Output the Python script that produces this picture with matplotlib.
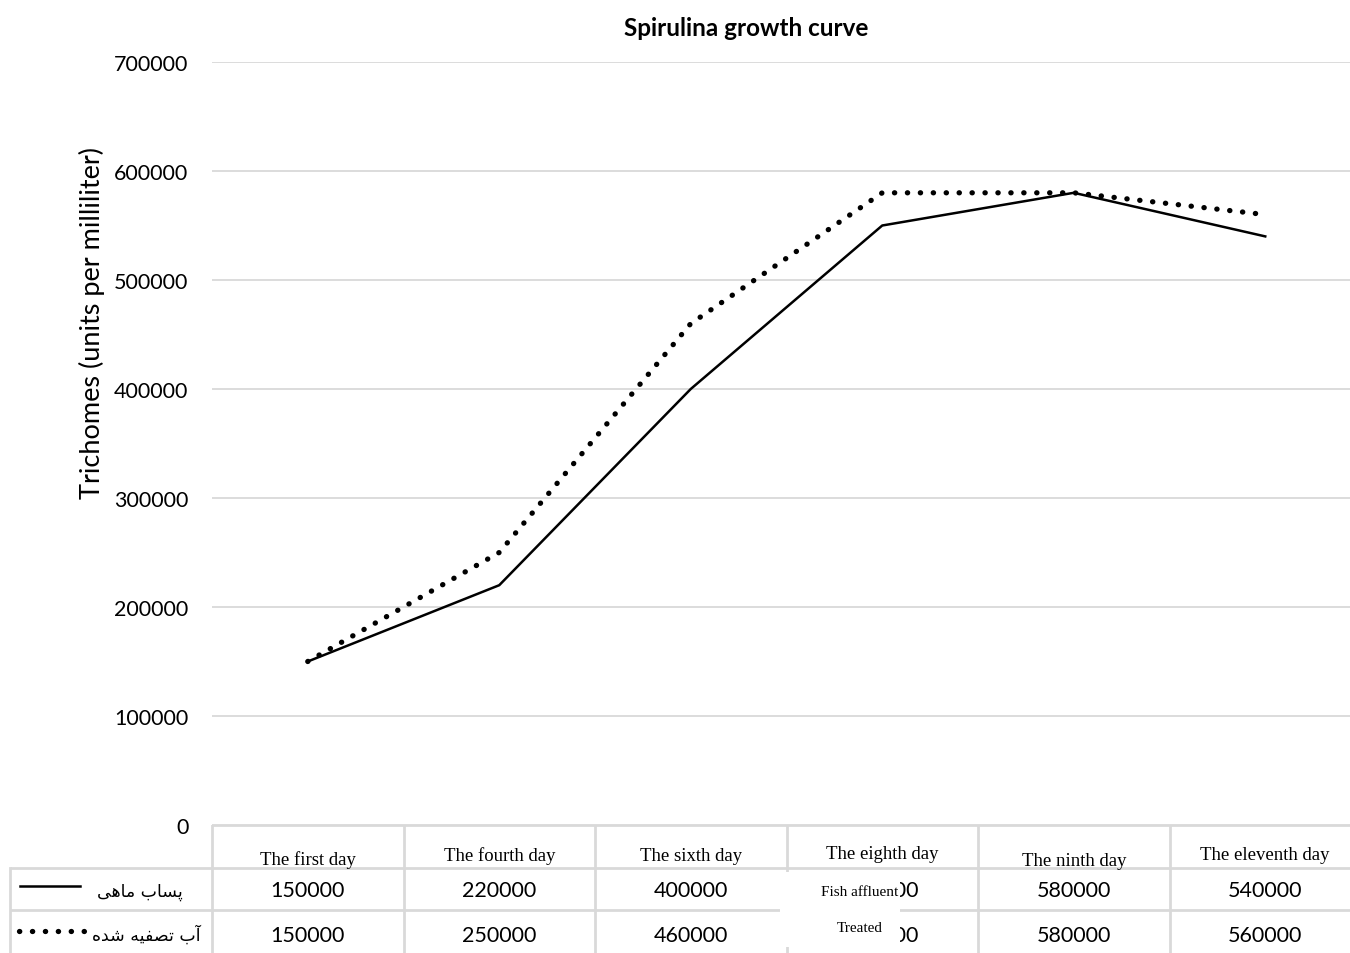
import numpy as np
import matplotlib.pyplot as plt
from matplotlib.lines import Line2D
from matplotlib.patches import Rectangle

plt.rcParams['font.family'] = ['Lato', 'DejaVu Sans']

# Data
days = ['The first day', 'The fourth day', 'The sixth day',
        'The eighth day', 'The ninth day', 'The eleventh day']
fish_effluent = [150000, 220000, 400000, 550000, 580000, 540000]
treated_water = [150000, 250000, 460000, 580000, 580000, 560000]
series_names = ['پساب ماهی', 'آب تصفیه شده']
overlay_names = ['Fish affluent', 'Treated']
yticks = [0, 100000, 200000, 300000, 400000, 500000, 600000, 700000]

# minimal persian shaping for matplotlib (no bidi / joining support)
FORMS = {
    'ا': ('\uFE8D', '\uFE8E', None, None),
    'آ': ('\uFE81', '\uFE82', None, None),
    'د': ('\uFEA9', '\uFEAA', None, None),
    'ب': ('\uFE8F', '\uFE90', '\uFE91', '\uFE92'),
    'پ': ('\uFB56', '\uFB57', '\uFB58', '\uFB59'),
    'ت': ('\uFE95', '\uFE96', '\uFE97', '\uFE98'),
    'س': ('\uFEB1', '\uFEB2', '\uFEB3', '\uFEB4'),
    'ش': ('\uFEB5', '\uFEB6', '\uFEB7', '\uFEB8'),
    'ص': ('\uFEB9', '\uFEBA', '\uFEBB', '\uFEBC'),
    'ف': ('\uFED1', '\uFED2', '\uFED3', '\uFED4'),
    'م': ('\uFEE1', '\uFEE2', '\uFEE3', '\uFEE4'),
    'ه': ('\uFEE9', '\uFEEA', '\uFEEB', '\uFEEC'),
    'ی': ('\uFBFC', '\uFBFD', '\uFBFE', '\uFBFF'),
}


def shape_fa(text):
    out = []
    for i, ch in enumerate(text):
        if ch not in FORMS:
            out.append(ch)
            continue
        prev = text[i - 1] if i > 0 else ' '
        nxt = text[i + 1] if i + 1 < len(text) else ' '
        f = FORMS[ch]
        join_prev = prev in FORMS and FORMS[prev][2] is not None
        join_next = nxt in FORMS and f[2] is not None
        if join_prev and join_next:
            g = f[3]
        elif join_prev:
            g = f[1]
        elif join_next:
            g = f[2]
        else:
            g = f[0]
        out.append(g)
    return ''.join(reversed(out))


W, H = 1350, 954
x0 = 212          # left edge of plot area (px)
unit = 191.5      # width of one category (px)
fig = plt.figure(figsize=(W / 100, H / 100), dpi=100)
ax = fig.add_axes([x0 / W, 1 - 826 / H, unit * len(days) / W, (826 - 63) / H])

x = np.arange(len(days))
grid_c = '#d9d9d9'
dots = (0, (0.05, 2.4))
ax.plot(x, fish_effluent, color='black', lw=1.8, zorder=3)
ax.plot(x, treated_water, color='black', lw=3.8, linestyle=dots,
        dash_capstyle='round', zorder=3)

ax.set_xlim(-0.5, len(days) - 0.5)
ax.set_ylim(0, 700000)
ax.set_yticks(yticks)
ax.set_yticklabels([str(v) for v in yticks], fontsize=15.5)
ax.set_xticks([])
ax.yaxis.grid(True, color=grid_c, lw=1.3)
ax.set_axisbelow(True)
for s in ax.spines.values():
    s.set_visible(False)
ax.tick_params(axis='y', length=0, pad=17)
fig.text(92 / W, 1 - 323 / H, 'Trichomes (units per milliliter)', rotation=90,
         ha='center', va='center', fontsize=19.5)
fig.text(746 / W, 1 - 28 / H, 'Spirulina growth curve', ha='center', va='center',
         fontsize=17.5, fontweight='bold')

# data table under the chart
left = -0.5 - x0 / unit
tab = fig.add_axes([0, 0, 1, (H - 826) / H])
tab.set_xlim(left, left + W / unit)
tab.set_ylim(0, 3)
tab.axis('off')


def px(xp):
    return left + xp / unit


lw_t = 2
right = len(days) - 0.5
tab.plot([-0.5, right], [3, 3], color=grid_c, lw=lw_t, solid_capstyle='butt')
tab.plot([px(10), right], [2, 2], color=grid_c, lw=lw_t, solid_capstyle='butt')
tab.plot([px(10), right], [1, 1], color=grid_c, lw=lw_t, solid_capstyle='butt')
tab.plot([px(10), px(10)], [0, 2], color=grid_c, lw=lw_t)
for i in range(len(days)):
    tab.plot([i - 0.5, i - 0.5], [0, 3], color=grid_c, lw=lw_t)

head_dy = [0.2, 0.3, 0.28, 0.33, 0.16, 0.31]
for i, d in enumerate(days):
    tab.text(i, 2 + head_dy[i], d, ha='center', va='center', fontsize=13.5,
             family='Liberation Serif')
for row, vals in zip([1.48, 0.42], [fish_effluent, treated_water]):
    for i, v in enumerate(vals):
        tab.text(i, row, str(v), ha='center', va='center', fontsize=15.5)

# row labels with legend keys
tab.text(px(183), 1.45, shape_fa(series_names[0]), ha='right', va='center',
         fontsize=12.5, family='DejaVu Sans')
tab.add_line(Line2D([px(20), px(80)], [1.57, 1.57], color='black', lw=1.8))
tab.text(px(200), 0.45, shape_fa(series_names[1]), ha='right', va='center',
         fontsize=12.5, family='DejaVu Sans')
tab.add_line(Line2D([px(19), px(84)], [0.52, 0.52], color='black', lw=3.8,
                    linestyle=dots, dash_capstyle='round'))

# pasted label box covering the eighth day cells
tab.add_patch(Rectangle((px(780), 0.14), 120 / unit, 1.76, facecolor='white',
                        edgecolor='none', zorder=5))
tab.text(px(860), 1.45, overlay_names[0], ha='center', va='center', fontsize=11,
         family='Liberation Serif', zorder=6)
tab.text(px(860), 0.6, overlay_names[1], ha='center', va='center', fontsize=11,
         family='Liberation Serif', zorder=6)

fig.savefig('out.png', dpi=100)
